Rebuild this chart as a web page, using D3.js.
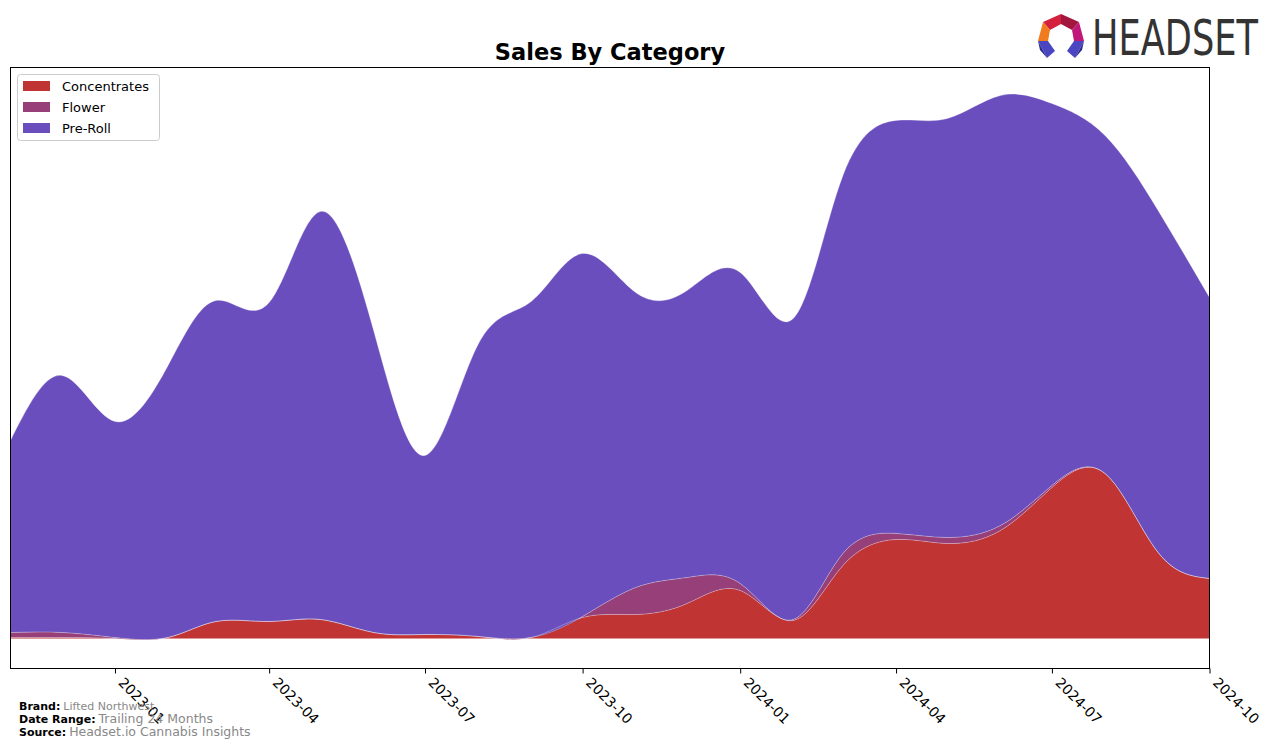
<!DOCTYPE html>
<html>
<head>
<meta charset="utf-8">
<script src="https://cdn.jsdelivr.net/npm/d3@7"></script>
<style>
  html, body { margin: 0; padding: 0; background: #fff; }
  svg { display: block; font-family: "DejaVu Sans", sans-serif; }
</style>
</head>
<body>
<svg id="chart" width="1276" height="748"></svg>
<script>
// ---- data (monthly sales index) ----
const months = ["2022-11","2022-12","2023-01","2023-02","2023-03","2023-04","2023-05","2023-06",
  "2023-07","2023-08","2023-09","2023-10","2023-11","2023-12","2024-01","2024-02","2024-03",
  "2024-04","2024-05","2024-06","2024-07","2024-08","2024-09","2024-10"];
const categories = ["Concentrates", "Flower", "Pre-Roll"];
const concentrates = [1, 1, 0, 1, 17, 17, 19, 6, 4, 2, 1, 21, 24, 35, 48, 18, 73, 99, 95, 108, 151, 165, 86, 60];
const flower =       [5, 5, 1, 0, 0, 0, 0, 0, 0, 0, 0, 1, 27, 26, 7, 1, 12, 6, 6, 5, 2, 0, 0, 0];
const preRoll =      [192, 257, 216, 272, 321, 319, 408, 302, 179, 292, 336, 363, 295, 287, 311, 301, 378, 413, 419, 430, 382, 338, 342, 281];
const tickLabels = ["2023-01","2023-04","2023-07","2023-10","2024-01","2024-04","2024-07","2024-10"];
const colors = ["#c03434", "#963f78", "#6a4ebd"];
const yDomain = [-30, 571];

(function () {
// ---- layout ----
const svg = d3.select("#chart");
const pL = 10.5, pR = 1209.5, pT = 67.5, pB = 668.5;
const parse = d3.timeParse("%Y-%m");

const rows = months.map((m, i) => ({
  date: parse(m),
  "Concentrates": concentrates[i],
  "Flower": flower[i],
  "Pre-Roll": preRoll[i]
}));

const x = d3.scaleTime()
  .domain([parse(months[0]), parse(months[months.length - 1])])
  .range([pL, pR]);
const y = d3.scaleLinear().domain(yDomain).range([pB, pT]);

const series = d3.stack().keys(categories)(rows);

const area = d3.area()
  .x(d => x(d.data.date))
  .y0(d => y(d[0]))
  .y1(d => y(d[1]))
  .curve(d3.curveNatural);

const topLine = d3.line()
  .x(d => x(d.data.date))
  .y(d => y(d[1]))
  .curve(d3.curveNatural);

svg.append("defs").append("clipPath").attr("id", "clip")
  .append("rect").attr("x", pL).attr("y", pT).attr("width", pR - pL).attr("height", pB - pT);

const g = svg.append("g").attr("clip-path", "url(#clip)");
g.selectAll("path.layer").data(series).enter().append("path")
  .attr("class", "layer")
  .attr("d", area)
  .attr("fill", (d, i) => colors[i]);
g.selectAll("path.edge").data(series).enter().append("path")
  .attr("class", "edge")
  .attr("d", topLine)
  .attr("fill", "none")
  .attr("stroke", "#ffffff")
  .attr("stroke-opacity", 0.3)
  .attr("stroke-width", 1);

// frame
svg.append("rect")
  .attr("x", pL).attr("y", pT).attr("width", pR - pL).attr("height", pB - pT)
  .attr("fill", "none").attr("stroke", "#000").attr("stroke-width", 1);

// x axis
const xAxis = d3.axisBottom(x)
  .tickValues(tickLabels.map(parse))
  .tickFormat(d3.timeFormat("%Y-%m"))
  .tickSize(5)
  .tickSizeOuter(0);
const ax = svg.append("g").attr("transform", `translate(0,${pB})`).call(xAxis);
ax.select(".domain").remove();
ax.selectAll(".tick line").attr("stroke", "#000");
ax.selectAll(".tick text")
  .attr("font-size", "14px")
  .attr("font-family", "DejaVu Sans, sans-serif")
  .attr("fill", "#000")
  .attr("text-anchor", "start")
  .attr("dy", null)
  .attr("y", 0)
  .attr("transform", "translate(2,15) rotate(45)");

// title
svg.append("text")
  .attr("x", (pL + pR) / 2).attr("y", 60)
  .attr("text-anchor", "middle")
  .attr("font-size", "22.5px").attr("font-weight", "bold")
  .text("Sales By Category");

// legend
const lg = svg.append("g").attr("transform", "translate(17.5,74.5)");
lg.append("rect").attr("width", 142).attr("height", 66).attr("rx", 3)
  .attr("fill", "#fff").attr("fill-opacity", 0.8).attr("stroke", "#cccccc");
categories.forEach((c, i) => {
  lg.append("rect").attr("x", 5.5).attr("y", 6.5 + i * 21).attr("width", 27).attr("height", 10)
    .attr("fill", colors[i]);
  lg.append("text").attr("x", 44.5).attr("y", 16.5 + i * 21)
    .attr("font-size", "13px").text(c);
});

// footer
const foot = [
  ["Brand:", "Lifted Northwest", 710, "11px"],
  ["Date Range:", "Trailing 24 Months", 723, "12.5px"],
  ["Source:", "Headset.io Cannabis Insights", 736, "12.5px"]
];
foot.forEach(([k, v, yy, fs]) => {
  const t = svg.append("text").attr("x", 19).attr("y", yy).attr("font-size", "11px");
  t.append("tspan").attr("font-weight", "bold").attr("fill", "#000").text(k);
  t.append("tspan").attr("fill", "#888").attr("font-size", fs).attr("dx", 3).text(v);
});

// logo
const logo = svg.append("g").attr("transform", "translate(1038,14)");
logo.append("polygon").attr("points", "5,8 23,0 23,10 12,16").attr("fill", "#d4213d");
logo.append("polygon").attr("points", "23,0 41,8 34,16 23,10").attr("fill", "#a3173f");
logo.append("polygon").attr("points", "5,8 12,16 10,27 0,27").attr("fill", "#f07c1f");
logo.append("polygon").attr("points", "41,8 46,27 36,27 34,16").attr("fill", "#c0177a");
logo.append("polygon").attr("points", "0,27 10,27 17,37 9,44").attr("fill", "#4a45c0");
logo.append("polygon").attr("points", "0,27 9,44 2,36").attr("fill", "#2a2a8a");
logo.append("polygon").attr("points", "46,27 36,27 29,37 37,44").attr("fill", "#4a45c0");
logo.append("polygon").attr("points", "46,27 37,44 44,36").attr("fill", "#2a2a8a");
const word = svg.append("text")
  .attr("x", 0).attr("y", 0)
  .attr("font-size", "49px")
  .attr("font-family", "DejaVu Sans, sans-serif")
  .attr("fill", "#333")
  .text("HEADSET");
const natural = word.node().getComputedTextLength() || 231;
word.attr("transform", `translate(1092,55) scale(${166 / natural},1)`);
})();
</script>
</body>
</html>
